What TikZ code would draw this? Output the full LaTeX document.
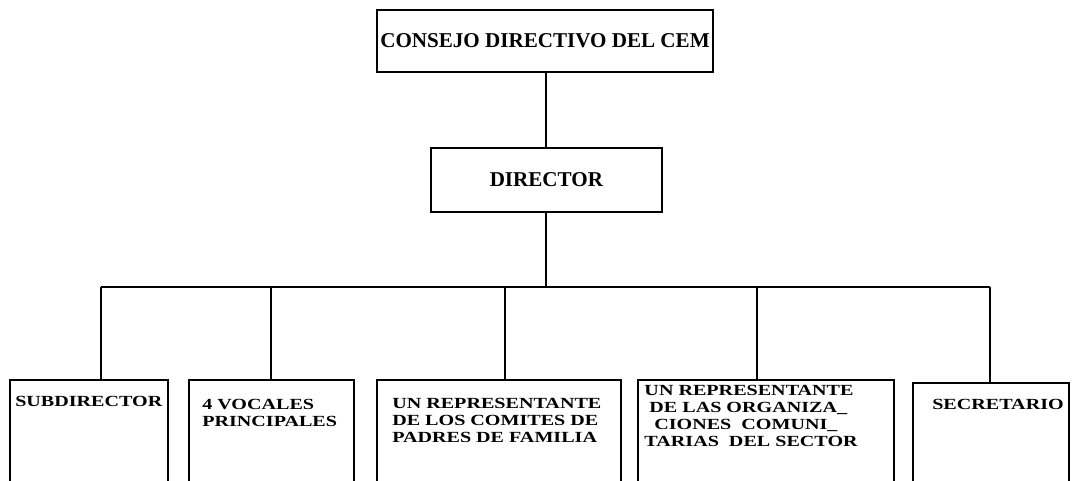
\documentclass[tikz,border=0pt]{standalone}
\usepackage{fontspec}
\setmainfont{Liberation Serif}
\newfontfamily\lowfont{Liberation Serif}[FakeStretch=1.3]
\usepackage{tikz}
\usetikzlibrary{positioning}
\tikzstyle{line} = [line width=1.4pt]
\tikzstyle{block} = [rectangle, draw, line width=1.4pt, inner sep=0pt, font=\bfseries\fontsize{15}{15}\selectfont]
\tikzstyle{member} = [rectangle, draw, line width=1.4pt, anchor=north west, minimum height=3.2cm]
\tikzstyle{caption} = [anchor=north west, inner sep=0pt, align=left, font=\lowfont\bfseries\fontsize{11}{12.2}\selectfont]

\begin{document}
\begin{tikzpicture}
    \useasboundingbox (0,0) rectangle (26.8,-12);
    \clip (0,0) rectangle (26.8,-12);

    \node (consejo)  [block, minimum width=8.4cm, minimum height=1.55cm] at (13.625,-1.025) {CONSEJO DIRECTIVO DEL CEM};
    \node (director) [block, minimum width=5.775cm, minimum height=1.6cm] at (13.66,-4.5) {DIRECTOR};

    \node (sub) [member, minimum width=3.95cm]  at (0.225,-9.475) {};
    \node (voc) [member, minimum width=4.125cm] at (4.7,-9.475) {};
    \node (pad) [member, minimum width=6.1cm]   at (9.4,-9.475) {};
    \node (org) [member, minimum width=6.4cm]   at (15.925,-9.475) {};
    \node (sec) [member, minimum width=3.9cm]   at (22.8,-9.55) {};

    \node (subtxt) [caption, below right=0.43cm and 0.15cm of sub.north west] {SUBDIRECTOR};
    \node (voctxt) [caption, below right=0.5cm and 0.35cm of voc.north west] {4 VOCALES\\PRINCIPALES};
    \node (padtxt) [caption, below right=0.47cm and 0.4cm of pad.north west] {UN REPRESENTANTE\\DE LOS COMITES DE\\PADRES DE FAMILIA};
    \node (orgtxt) [caption, below right=0.15cm and 0.18cm of org.north west] {UN REPRESENTANTE\\\hspace{3.5pt}DE LAS ORGANIZA\_\\\hspace{7pt}CIONES\ \ COMUNI\_\\TARIAS\ \ DEL SECTOR};
    \node (sectxt) [caption, below right=0.42cm and 0.5cm of sec.north west] {SECRETARIO};

    \coordinate (b1) at (2.525,-7.175);
    \coordinate (b2) at (6.775,-7.175);
    \coordinate (b3) at (12.625,-7.175);
    \coordinate (b4) at (18.925,-7.175);
    \coordinate (b5) at (24.75,-7.175);

    \draw [line] (director.north) -- (director.north |- consejo.south);
    \draw [line] (director.south) -- (director.south |- b3);
    \draw [line] (b1) -- (b5);
    \draw [line] (b1) -- (b1 |- sub.north);
    \draw [line] (b2) -- (b2 |- voc.north);
    \draw [line] (b3) -- (b3 |- pad.north);
    \draw [line] (b4) -- (b4 |- org.north);
    \draw [line] (b5) -- (b5 |- sec.north);
\end{tikzpicture}
\end{document}
